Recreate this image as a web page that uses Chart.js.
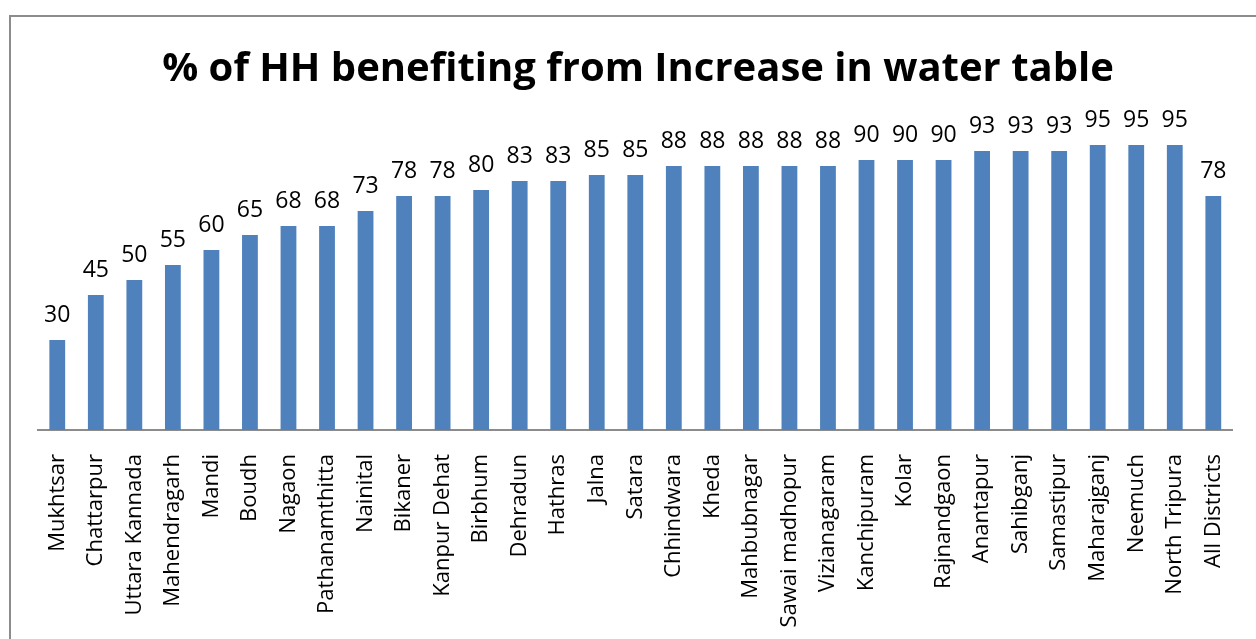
<!DOCTYPE html>
<html>
<head>
<meta charset="utf-8">
<script src="https://cdn.jsdelivr.net/npm/chart.js@4"></script>
<style>
  html, body { margin: 0; padding: 0; background: #fff; }
  #wrap { position: relative; width: 1256px; height: 639px; }
</style>
</head>
<body>
<div id="wrap"><canvas id="water-chart" width="1256" height="639"></canvas></div>
<script>
const districts = ['Mukhtsar', 'Chattarpur', 'Uttara Kannada', 'Mahendragarh', 'Mandi', 'Boudh',
    'Nagaon', 'Pathanamthitta', 'Nainital', 'Bikaner', 'Kanpur Dehat', 'Birbhum', 'Dehradun',
    'Hathras', 'Jalna', 'Satara', 'Chhindwara', 'Kheda', 'Mahbubnagar', 'Sawai madhopur',
    'Vizianagaram', 'Kanchipuram', 'Kolar', 'Rajnandgaon', 'Anantapur', 'Sahibganj',
    'Samastipur', 'Maharajganj', 'Neemuch', 'North Tripura', 'All Districts'];
const percentHH = [30, 45, 50, 55, 60, 65, 68, 68, 73, 78, 78, 80, 83, 83, 85, 85,
    88, 88, 88, 88, 88, 90, 90, 90, 93, 93, 93, 95, 95, 95, 78];
const chartTitle = '% of HH benefiting from Increase in water table';

const labelFont = '"Open Sans", "DejaVu Sans", sans-serif';

// frame line around the chart + value labels over each bar
const framePlugin = {
    id: 'frame',
    beforeDraw(chart){
        const ctx = chart.ctx;
        ctx.save();
        ctx.fillStyle = '#fff';
        ctx.fillRect(0, 0, chart.width, chart.height);
        ctx.strokeStyle = '#8c8c8c';
        ctx.lineWidth = 2;
        ctx.strokeRect(10, 16, chart.width + 50, chart.height + 50);
        ctx.restore();
    }
};

const valueLabels = {
    id: 'valueLabels',
    afterDatasetsDraw(chart){
        const ctx = chart.ctx;
        const meta = chart.getDatasetMeta(0);
        ctx.save();
        ctx.fillStyle = '#000';
        ctx.font = '23px ' + labelFont;
        ctx.textAlign = 'center';
        ctx.textBaseline = 'alphabetic';
        meta.data.forEach(function(bar, i){
            ctx.fillText(percentHH[i], bar.x, bar.y - 18);
        });
        ctx.restore();
    }
};

let ctxEl = document.getElementById('water-chart').getContext('2d');
let waterChart = new Chart(ctxEl, {
    type: 'bar',
    data: {
        labels: districts,
        datasets: [{
            data: percentHH,
            backgroundColor: '#4F81BD',
            barPercentage: 0.41,
            categoryPercentage: 1
        }]
    },
    options: {
        responsive: false,
        animation: false,
        layout: { padding: { left: 38, right: 18, top: 0, bottom: 0 } },
        plugins: {
            legend: { display: false },
            tooltip: { enabled: false },
            title: {
                display: true,
                text: chartTitle,
                color: '#000',
                font: { family: labelFont, size: 40, weight: 'bold', lineHeight: 1.2 },
                padding: { top: 46, bottom: 36 }
            }
        },
        scales: {
            y: {
                display: false,
                min: 0,
                max: 100
            },
            x: {
                grid: { display: false },
                border: { display: true, color: '#8c8c8c', width: 2 },
                ticks: {
                    color: '#000',
                    font: { family: labelFont, size: 22 },
                    minRotation: 90,
                    maxRotation: 90,
                    autoSkip: false,
                    padding: 16
                },
                afterFit: function(axis){
                    axis.height = 209;
                }
            }
        }
    },
    plugins: [framePlugin, valueLabels]
});
</script>
</body>
</html>
